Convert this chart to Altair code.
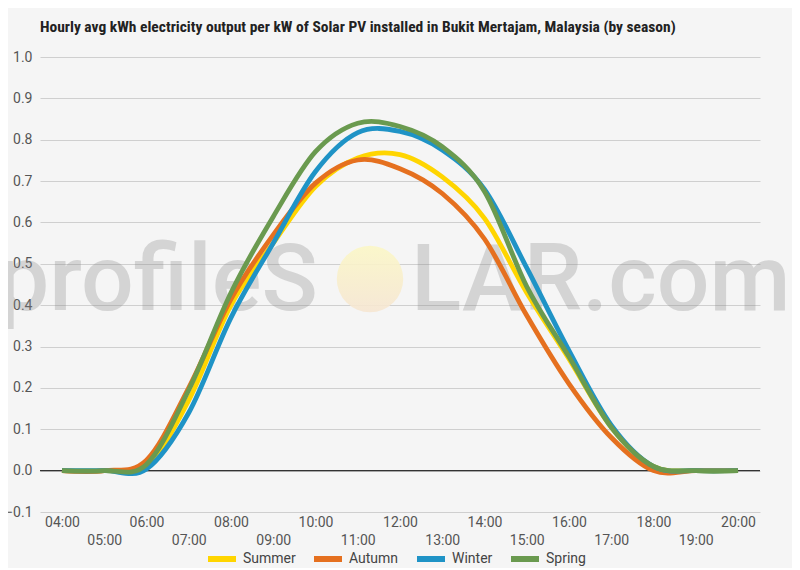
import altair as alt
import pandas as pd

hours = list(range(4, 21))
seasons = ["Summer", "Autumn", "Winter", "Spring"]
season_colors = ["#ffd500", "#e5701f", "#1f93c6", "#6a9a4f"]

summer = [0, 0, 0.01, 0.17, 0.40, 0.55, 0.687, 0.756, 0.764, 0.71, 0.61, 0.43, 0.27, 0.105, 0.01, 0, 0]
autumn = [0, 0, 0.025, 0.20, 0.415, 0.57, 0.695, 0.751, 0.73, 0.67, 0.56, 0.375, 0.21, 0.08, 0.0, 0, 0]
winter = [0, 0, 0.004, 0.14, 0.37, 0.55, 0.723, 0.817, 0.82, 0.775, 0.68, 0.49, 0.29, 0.11, 0.01, 0, 0]
spring = [0, 0, 0.015, 0.195, 0.43, 0.614, 0.771, 0.84, 0.832, 0.783, 0.675, 0.445, 0.275, 0.105, 0.01, 0, 0]

y_ticks = [round(-0.1 + 0.05 * i, 2) for i in range(23)]

rows = []
for name, vals in zip(seasons, [summer, autumn, winter, spring]):
    for h, v in zip(hours, vals):
        rows.append({"Hour": h, "Output": v, "Season": name})
df = pd.DataFrame(rows)

major = "abs(round(datum.value * 20)) % 2 == 0"
hh = "format(datum.value, '02d') + ':00'"

x_enc = alt.X(
    "Hour:Q",
    title=None,
    scale=alt.Scale(domain=[3.48, 20.52], nice=False, zero=False),
    axis=alt.Axis(
        values=hours,
        labelExpr=f"datum.value % 2 == 1 ? ['', {hh}] : {hh}",
        grid=False,
        ticks=False,
        domain=False,
        labelFlush=False,
        labelOverlap=False,
        labelLineHeight=18,
        labelPadding=3,
        labelFontSize=14,
        labelColor="#555555",
    ),
)
y_enc = alt.Y(
    "Output:Q",
    title=None,
    scale=alt.Scale(domain=[-0.1, 1.0], nice=False),
    axis=alt.Axis(
        values=y_ticks,
        labelExpr=f"{major} ? format(datum.value, '.1f') : ''",
        gridColor={"condition": {"test": major, "value": "#cfcfcf"}, "value": "#e6e6e6"},
        ticks=False,
        domain=False,
        labelPadding=8,
        labelFontSize=14,
        labelColor="#555555",
    ),
)

# watermark
wm_style = dict(align="left", baseline="alphabetic", fontSize=93, font="Roboto",
                fontWeight=500, color="#8a8a8a", opacity=0.3)
wm_left = (
    alt.Chart(pd.DataFrame({"t": ["profileS"]}))
    .mark_text(**wm_style)
    .encode(x=alt.value(-43), y=alt.value(253), text="t:N")
)
wm_right = (
    alt.Chart(pd.DataFrame({"t": ["LAR.com"]}))
    .mark_text(**wm_style)
    .encode(x=alt.value(371), y=alt.value(253), text="t:N")
)
sun = (
    alt.Chart(pd.DataFrame({"t": ["O"]}))
    .mark_circle(
        size=4420,
        opacity=0.9,
        color=alt.LinearGradient(
            gradient="linear",
            stops=[
                alt.GradientStop(color="#fbf7c6", offset=0),
                alt.GradientStop(color="#f6e6d2", offset=1),
            ],
            x1=0, x2=0, y1=0, y2=1,
        ),
    )
    .encode(x=alt.value(330), y=alt.value(222))
)

zero_line = (
    alt.Chart(pd.DataFrame({"z": [0]}))
    .mark_rule(color="#333333", strokeWidth=1.2)
    .encode(y=alt.Y("z:Q"))
)

lines = (
    alt.Chart(df)
    .mark_line(interpolate="cardinal", strokeWidth=4.8)
    .encode(
        x=x_enc,
        y=y_enc,
        color=alt.Color(
            "Season:N",
            scale=alt.Scale(domain=seasons, range=season_colors),
            sort=seasons,
            legend=alt.Legend(
                title=None,
                orient="none",
                direction="horizontal",
                legendX=165,
                legendY=485,
                symbolType="stroke",
                symbolStrokeWidth=6,
                symbolSize=784,
                labelOffset=4,
                columnPadding=6,
                labelFontSize=14,
                labelColor="#444444",
            ),
        ),
    )
)

chart = (
    alt.layer(wm_left, wm_right, sun, zero_line, lines)
    .properties(
        width=720,
        height=455,
        autosize=alt.AutoSizeParams(type="none"),
        padding={"left": 32, "top": 49, "right": 32, "bottom": 56},
        background="#f5f5f5",
        title=alt.Title(
            "Hourly avg kWh electricity output per kW of Solar PV installed in Bukit Mertajam, Malaysia (by season)",
            anchor="start",
            frame="group",
            font="Roboto Condensed, Liberation Sans Narrow, Roboto",
            fontSize=15.5,
            fontWeight="bold",
            color="#222222",
            offset=15,
        ),
    )
    .configure(font="Roboto")
    .configure_view(stroke=None)
)

chart.save("out.html", embed_options={"renderer": "svg", "actions": False})
